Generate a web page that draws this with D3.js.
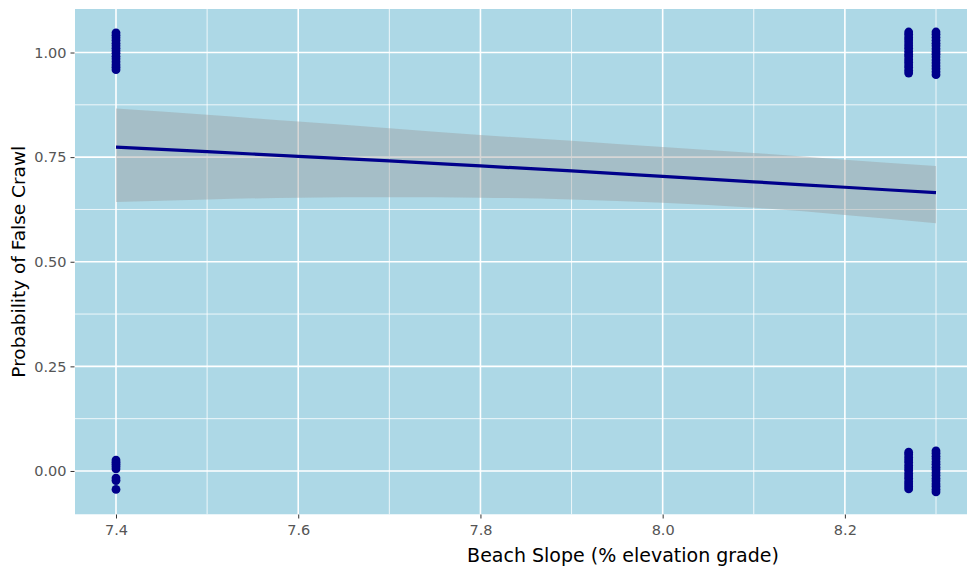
<!DOCTYPE html>
<html>
<head>
<meta charset="utf-8">
<script src="https://cdn.jsdelivr.net/npm/d3@7"></script>
<style>
  html, body { margin: 0; padding: 0; background: #ffffff; }
  svg { display: block; }
</style>
</head>
<body>
<script>
// ---------- data ----------
const slopeLevels = [7.4, 8.27, 8.3];
// jittered observed outcomes (1 = false crawl, 0 = nest)
const y_74_top  = [1.047, 1.041, 1.035, 1.029, 1.022, 1.016, 1.010, 1.004, 0.998, 0.991, 0.985, 0.978, 0.971, 0.965, 0.959];
const y_74_bot  = [0.026, 0.021, 0.016, 0.011, 0.005, -0.017, -0.023, -0.044];
const y_827_top = [1.049, 1.043, 1.036, 1.030, 1.023, 1.016, 1.010, 1.003, 0.996, 0.990, 0.983, 0.977, 0.970, 0.964, 0.957, 0.951];
const y_827_bot = [0.045, 0.039, 0.032, 0.026, 0.020, 0.013, 0.007, 0.001, -0.006, -0.012, -0.018, -0.025, -0.031, -0.037, -0.043];
const y_83_top  = [1.049, 1.043, 1.036, 1.029, 1.022, 1.016, 1.009, 1.002, 0.996, 0.989, 0.982, 0.975, 0.968, 0.961, 0.954, 0.947];
const y_83_bot  = [0.048, 0.042, 0.035, 0.029, 0.022, 0.016, 0.009, 0.003, -0.004, -0.011, -0.018, -0.024, -0.031, -0.037, -0.044, -0.050];

// fitted logistic curve with 95% band
const fitX     = [7.4, 7.5, 7.6, 7.7, 7.8, 7.9, 8.0, 8.1, 8.2, 8.3];
const fitY     = [0.774, 0.763, 0.752, 0.741, 0.729, 0.717, 0.704, 0.691, 0.678, 0.665];
const fitLower = [0.643, 0.649, 0.653, 0.654, 0.653, 0.649, 0.641, 0.629, 0.612, 0.592];
const fitUpper = [0.866, 0.851, 0.835, 0.819, 0.803, 0.789, 0.774, 0.760, 0.744, 0.729];

const xMajor = [7.4, 7.6, 7.8, 8.0, 8.2];
const xMajorLabels = ["7.4", "7.6", "7.8", "8.0", "8.2"];
const xMinor = [7.5, 7.7, 7.9, 8.1, 8.3];
const yMajor = [0, 0.25, 0.5, 0.75, 1.0];
const yMajorLabels = ["0.00", "0.25", "0.50", "0.75", "1.00"];
const yMinor = [0.125, 0.375, 0.625, 0.875];

const xTitle = "Beach Slope (% elevation grade)";
const yTitle = "Probability of False Crawl";

// ---------- build ----------
const W = 967, H = 569;
const svg = d3.select("body").append("svg").attr("width", W).attr("height", H);

const x = d3.scaleLinear().domain([7.355, 8.345]).range([75, 977]);
const y = d3.scaleLinear().domain([-0.104, 1.104]).range([514.5, 9]);

const panelL = x.range()[0], panelR = x.range()[1];
const panelT = y.range()[1], panelB = y.range()[0];

const defs = svg.append("defs");
defs.append("clipPath").attr("id", "panel")
  .append("rect").attr("x", panelL).attr("y", panelT)
  .attr("width", panelR - panelL).attr("height", panelB - panelT);

const panel = svg.append("g").attr("clip-path", "url(#panel)");
panel.append("rect")
  .attr("x", panelL).attr("y", panelT)
  .attr("width", panelR - panelL).attr("height", panelB - panelT)
  .attr("fill", "#ADD8E6");

// minor grid
panel.selectAll("line.xmin").data(xMinor).enter().append("line")
  .attr("x1", d => x(d)).attr("x2", d => x(d)).attr("y1", panelT).attr("y2", panelB)
  .attr("stroke", "#ffffff").attr("stroke-width", 0.8);
panel.selectAll("line.ymin").data(yMinor).enter().append("line")
  .attr("y1", d => y(d)).attr("y2", d => y(d)).attr("x1", panelL).attr("x2", panelR)
  .attr("stroke", "#ffffff").attr("stroke-width", 0.8);
// major grid
panel.selectAll("line.xmaj").data(xMajor).enter().append("line")
  .attr("x1", d => x(d)).attr("x2", d => x(d)).attr("y1", panelT).attr("y2", panelB)
  .attr("stroke", "#ffffff").attr("stroke-width", 1.6);
panel.selectAll("line.ymaj").data(yMajor).enter().append("line")
  .attr("y1", d => y(d)).attr("y2", d => y(d)).attr("x1", panelL).attr("x2", panelR)
  .attr("stroke", "#ffffff").attr("stroke-width", 1.6);

// points
const pts = [];
y_74_top.forEach(v => pts.push([slopeLevels[0], v]));
y_74_bot.forEach(v => pts.push([slopeLevels[0], v]));
y_827_top.forEach(v => pts.push([slopeLevels[1], v]));
y_827_bot.forEach(v => pts.push([slopeLevels[1], v]));
y_83_top.forEach(v => pts.push([slopeLevels[2], v]));
y_83_bot.forEach(v => pts.push([slopeLevels[2], v]));
panel.selectAll("circle.pt").data(pts).enter().append("circle")
  .attr("cx", d => x(d[0])).attr("cy", d => y(d[1])).attr("r", 4.4)
  .attr("fill", "#00008B");

// ribbon
const fit = fitX.map((v, i) => ({x: v, y: fitY[i], lo: fitLower[i], hi: fitUpper[i]}));
panel.append("path").datum(fit)
  .attr("d", d3.area().x(d => x(d.x)).y0(d => y(d.lo)).y1(d => y(d.hi)).curve(d3.curveMonotoneX))
  .attr("fill", "#999999").attr("fill-opacity", 0.4);
panel.append("path").datum(fit)
  .attr("d", d3.line().x(d => x(d.x)).y(d => y(d.y)).curve(d3.curveMonotoneX))
  .attr("fill", "none").attr("stroke", "#00008B").attr("stroke-width", 3.2);

// axes
const font = "'DejaVu Sans', 'Liberation Sans', Arial, sans-serif";
const xAxis = d3.axisBottom(x).tickValues(xMajor).tickSize(4).tickPadding(6)
  .tickFormat((d, i) => xMajorLabels[i]);
const gx = svg.append("g").attr("transform", `translate(0,${panelB})`).call(xAxis);
gx.select(".domain").remove();
gx.selectAll(".tick line").attr("stroke", "#333333").attr("stroke-width", 1);
gx.selectAll(".tick text").attr("fill", "#555555").style("font-family", font).style("font-size", "14.5px")
  .attr("dy", "0.71em");

const yAxis = d3.axisLeft(y).tickValues(yMajor).tickSize(4).tickPadding(4)
  .tickFormat((d, i) => yMajorLabels[i]);
const gy = svg.append("g").attr("transform", `translate(${panelL - 0.5},0)`).call(yAxis);
gy.select(".domain").remove();
gy.selectAll(".tick line").attr("stroke", "#333333").attr("stroke-width", 1);
gy.selectAll(".tick text").attr("fill", "#555555").style("font-family", font).style("font-size", "14.5px");

// titles
svg.append("text").attr("x", 623).attr("y", 562).attr("text-anchor", "middle")
  .style("font-family", font).style("font-size", "19px").attr("fill", "#000")
  .text(xTitle);
svg.append("text").attr("transform", `translate(25,${(panelT + panelB) / 2}) rotate(-90)`)
  .attr("text-anchor", "middle")
  .style("font-family", font).style("font-size", "18.5px").attr("fill", "#000")
  .text(yTitle);
</script>
</body>
</html>
